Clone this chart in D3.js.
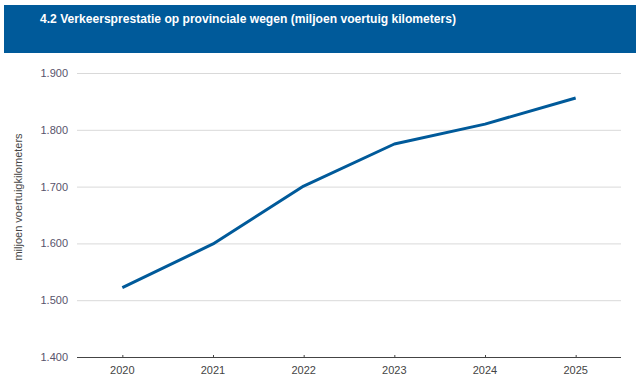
<!DOCTYPE html>
<html><head><meta charset="utf-8">
<script src="https://cdn.jsdelivr.net/npm/d3@7"></script>
<style>body{margin:0;background:#fff;}svg{display:block;font-family:Arial,"Liberation Sans",sans-serif;}</style>
</head><body>
<svg id="c" width="640" height="378"></svg>
<script>
const years = ["2020","2021","2022","2023","2024","2025"];
const values = [1522, 1599, 1701, 1775, 1810, 1856];
const yTicks = [1400, 1500, 1600, 1700, 1800, 1900];
const title = "4.2 Verkeersprestatie op provinciale wegen (miljoen voertuig kilometers)";
const yLabel = "miljoen voertuigkilometers";

const svg = d3.select("#c");
const blue = "#005a9a";
svg.append("rect").attr("x",4).attr("y",5).attr("width",632).attr("height",48).attr("fill",blue);
svg.append("text").attr("x",40).attr("y",23).attr("fill","#fff").attr("font-size",12.1).attr("font-weight","bold").text(title);

const m = {l:77, r:621, t:73, b:357};
const x = d3.scalePoint().domain(years).range([m.l, m.r]).padding(0.5);
const y = d3.scaleLinear().domain([1400,1900]).range([m.b, m.t]);
const fmt = v => d3.format(",")(v).replace(",", ".");

svg.selectAll("line.grid").data(yTicks.filter(d=>d>1400)).join("line").attr("class","grid")
  .attr("x1",m.l).attr("x2",m.r).attr("y1",d=>y(d)+0.5).attr("y2",d=>y(d)+0.5)
  .attr("stroke","#d9d9d9").attr("stroke-width",1);
svg.selectAll("text.yt").data(yTicks).join("text").attr("class","yt")
  .attr("x",68).attr("y",d=>y(d)+4).attr("text-anchor","end")
  .attr("font-size",11).attr("fill","#58536b").text(d=>fmt(d));

svg.append("line").attr("x1",m.l).attr("x2",m.r).attr("y1",m.b+0.5).attr("y2",m.b+0.5).attr("stroke","#444").attr("stroke-width",1);
svg.selectAll("line.xt").data(years).join("line").attr("class","xt")
  .attr("x1",d=>x(d)+0.5).attr("x2",d=>x(d)+0.5).attr("y1",m.b-2).attr("y2",m.b).attr("stroke","#444");
svg.selectAll("text.xl").data(years).join("text").attr("class","xl")
  .attr("x",d=>x(d)).attr("y",374).attr("text-anchor","middle")
  .attr("font-size",11).attr("fill","#444").text(d=>d);

svg.append("text").attr("transform","translate(22,197) rotate(-90)")
  .attr("text-anchor","middle").attr("font-size",11).attr("fill","#444").text(yLabel);

const line = d3.line().x((d,i)=>x(years[i])).y(d=>y(d));
svg.append("path").datum(values).attr("d",line).attr("fill","none")
  .attr("stroke",blue).attr("stroke-width",3).attr("stroke-linejoin","round");
</script>
</body></html>
